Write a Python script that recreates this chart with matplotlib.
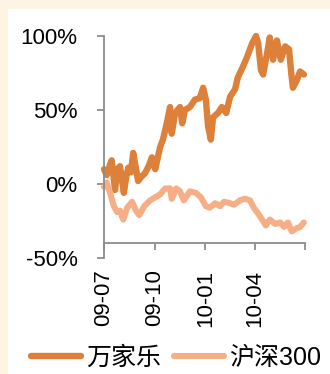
import matplotlib
matplotlib.use('Agg')
from matplotlib import pyplot as plt
from matplotlib.patches import Rectangle
import pandas as pd

# 万家乐 cumulative return (%)
wjl_dates = ['2009-07-01', '2009-07-06', '2009-07-11', '2009-07-15', '2009-07-21', '2009-07-25',
             '2009-07-30', '2009-08-06', '2009-08-10', '2009-08-14', '2009-08-19', '2009-08-23',
             '2009-09-01', '2009-09-07', '2009-09-13', '2009-09-20', '2009-09-26', '2009-10-02',
             '2009-10-11', '2009-10-16', '2009-10-23', '2009-10-29', '2009-11-01', '2009-11-07',
             '2009-11-16', '2009-11-20', '2009-11-25', '2009-12-04', '2009-12-13', '2009-12-22',
             '2009-12-28', '2010-01-02', '2010-01-06', '2010-01-11', '2010-01-15', '2010-01-24',
             '2010-01-31', '2010-02-08', '2010-02-15', '2010-02-24', '2010-03-01', '2010-03-10',
             '2010-03-18', '2010-03-27', '2010-04-03', '2010-04-07', '2010-04-12', '2010-04-16',
             '2010-04-23', '2010-04-28', '2010-05-04', '2010-05-11', '2010-05-18', '2010-05-26',
             '2010-06-02', '2010-06-06', '2010-06-09', '2010-06-16', '2010-06-22', '2010-06-29']
wjl_values = [10, 6, 12, 16, -4, 10,
              12, -6, 4, 11, 8, 21,
              2, 5, 7, 12, 18, 10,
              25, 30, 41, 52, 34, 48,
              52, 41, 50, 52, 57, 58,
              65, 57, 39, 30, 45, 48,
              52, 48, 59, 64, 72, 79,
              86, 95, 100, 95, 77, 74,
              88, 99, 84, 97, 84, 93,
              91, 75, 65, 70, 76, 74]

# 沪深300 cumulative return (%)
hs_dates = ['2009-07-01', '2009-07-06', '2009-07-12', '2009-07-19', '2009-07-25', '2009-07-30',
            '2009-08-05', '2009-08-12', '2009-08-21', '2009-08-28', '2009-09-03', '2009-09-12',
            '2009-09-23', '2009-10-02', '2009-10-11', '2009-10-20', '2009-10-29', '2009-11-01',
            '2009-11-09', '2009-11-16', '2009-11-23', '2009-12-04', '2009-12-15', '2009-12-24',
            '2010-01-02', '2010-01-09', '2010-01-19', '2010-01-28', '2010-02-04', '2010-02-15',
            '2010-02-22', '2010-03-05', '2010-03-14', '2010-03-23', '2010-03-30', '2010-04-07',
            '2010-04-14', '2010-04-21', '2010-04-28', '2010-05-08', '2010-05-17', '2010-05-24',
            '2010-05-31', '2010-06-07', '2010-06-15', '2010-06-22', '2010-06-29']
hs_values = [-2, 1, -6, -15, -19, -18,
             -24, -16, -12, -18, -21, -15,
             -11, -9, -7, -3, -3, -10,
             -3, -5, -11, -5, -6, -9,
             -15, -16, -13, -15, -12, -13,
             -14, -11, -10, -11, -16, -20,
             -24, -28, -24, -27, -26, -29,
             -26, -32, -30, -29, -26]

tick_dates = ['2009-07-01', '2009-10-01', '2010-01-01', '2010-04-01', '2010-07-01']
tick_labels = ['09-07', '09-10', '10-01', '10-04', '']
y_ticks = [-50, 0, 50, 100]
y_labels = ['-50%', '0%', '50%', '100%']

c_wjl = '#DC803A'
c_hs = '#F6AE86'

plt.rcParams['font.family'] = ['Liberation Sans', 'Noto Sans CJK SC']

fig = plt.figure(figsize=(3.3, 3.74), dpi=100)
fig.patch.set_facecolor('#FDF4E3')
fig.patches.append(Rectangle((8 / 330, 0), 1, 1 - 9 / 374, transform=fig.transFigure,
                             facecolor='white', edgecolor='none', zorder=-10))

ax = fig.add_axes([104 / 330, 1 - 258 / 374, 201 / 330, 222 / 374])
ax.set_facecolor('none')

ax.plot(pd.to_datetime(wjl_dates), wjl_values, color=c_wjl, lw=4.6, label='万家乐',
        solid_joinstyle='round', solid_capstyle='round', clip_on=False)
ax.plot(pd.to_datetime(hs_dates), hs_values, color=c_hs, lw=4.4, label='沪深300',
        solid_joinstyle='round', solid_capstyle='round', clip_on=False)

ax.set_xlim(pd.Timestamp('2009-07-01'), pd.Timestamp('2010-07-01'))
ax.set_ylim(-50, 100)

for s in ['top', 'right']:
    ax.spines[s].set_visible(False)
for s in ['left', 'bottom']:
    ax.spines[s].set_color('#8C8C8C')
    ax.spines[s].set_linewidth(1.3)
ax.spines['bottom'].set_position(('data', -40))

ax.set_xticks(pd.to_datetime(tick_dates))
ax.set_xticklabels(tick_labels, rotation=90, fontsize=16)
ax.set_yticks(y_ticks)
ax.set_yticklabels(y_labels, fontsize=16)
ax.tick_params(axis='both', direction='out', length=5, width=1.3, color='#8C8C8C')
ax.tick_params(axis='y', pad=14)
ax.tick_params(axis='x', pad=14)

fig.legend(loc='center', bbox_to_anchor=(176 / 330, 1 - 358 / 374), ncol=2, frameon=False,
           fontsize=18, handlelength=2.0, handletextpad=0.2, columnspacing=0.5,
           borderaxespad=0, borderpad=0)

fig.savefig('out.png', dpi=100, facecolor=fig.get_facecolor())
